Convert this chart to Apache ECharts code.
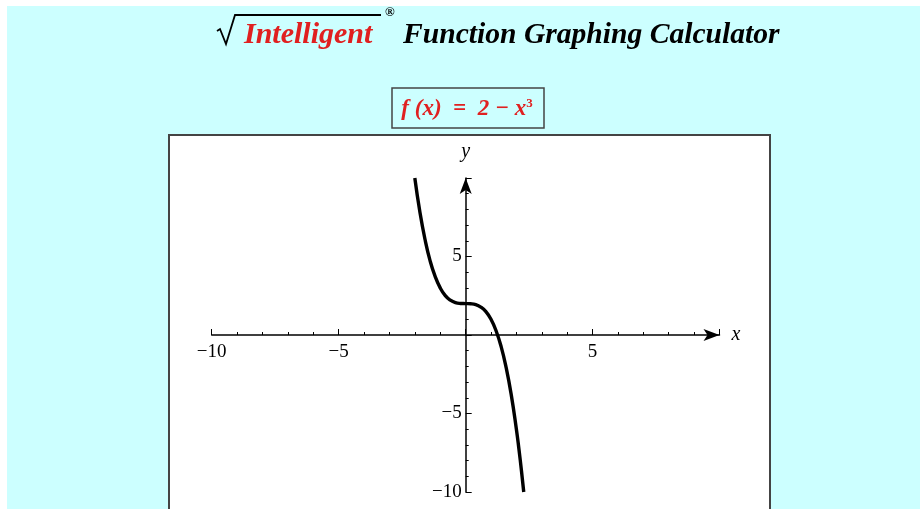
<!DOCTYPE html>
<html>
<head>
<meta charset="utf-8">
<script src="https://cdn.jsdelivr.net/npm/echarts@6/dist/echarts.min.js"></script>
<style>
  html, body { margin: 0; padding: 0; background: #ffffff; }
  #chart { width: 920px; height: 509px; }
</style>
</head>
<body>
<div id="chart"></div>
<script>
const xValues = [-2.0, -1.8, -1.6, -1.4, -1.2, -1.0, -0.8, -0.6, -0.4, -0.2, 0, 0.2, 0.4, 0.6, 0.8, 1.0, 1.2, 1.4, 1.6, 1.8, 2.0, 2.1, 2.2, 2.29];
const yValues = [10.0, 7.83, 6.1, 4.74, 3.73, 3.0, 2.51, 2.22, 2.06, 2.01, 2.0, 1.99, 1.94, 1.78, 1.49, 1.0, 0.27, -0.74, -2.1, -3.83, -6.0, -7.26, -8.65, -10.0];
const xTickLabels = ['\u221210', '\u22125', '', '5', ''];
const yTickLabels = ['\u221210', '\u22125', '', '5', ''];

const serif = '"Liberation Serif", "DejaVu Serif", serif';
const chart = echarts.init(document.getElementById('chart'));

// grid box in pixels
const gLeft = 211.7, gRight = 719.5, gTop = 178, gBottom = 492;

function tickLabel(labels) {
  return function (v) {
    const idx = Math.round((v + 10) / 5);
    return labels[idx] || '';
  };
}

const axisCommon = {
  type: 'value',
  min: -10,
  max: 10,
  interval: 5,
  axisLine: {
    onZero: false,
    symbol: ['none', 'arrow'],
    symbolSize: [9, 16],
    lineStyle: { color: '#000', width: 1.5 }
  },
  axisTick: { show: true, inside: true, length: 6, lineStyle: { color: '#000', width: 1 } },
  minorTick: { show: true, splitNumber: 5, length: 3, lineStyle: { color: '#000', width: 1 } },
  splitLine: { show: false },
  nameTextStyle: { fontFamily: serif, fontStyle: 'italic', fontSize: 20, color: '#000' }
};

const option = {
  backgroundColor: 'transparent',
  animation: false,
  graphic: [
    { type: 'rect', z: -20, shape: { x: 7, y: 6, width: 913, height: 503 }, style: { fill: '#ccffff' } },
    { type: 'rect', z: -10, shape: { x: 169, y: 135, width: 601, height: 380 }, style: { fill: '#ffffff', stroke: '#444', lineWidth: 2 } },
    { type: 'polyline', shape: { points: [[217, 31], [220, 29], [226, 44], [235, 15], [381, 15]] }, style: { stroke: '#000', lineWidth: 1.8, fill: null } },
    { type: 'text', style: { x: 244, y: 35, text: 'Intelligent', font: 'italic bold 30px ' + serif, fill: '#e02020', verticalAlign: 'middle' } },
    { type: 'text', style: { x: 385, y: 13, text: '\u00ae', font: 'bold 13px ' + serif, fill: '#000', verticalAlign: 'middle' } },
    { type: 'text', style: { x: 403, y: 35, text: 'Function Graphing Calculator', font: 'italic bold 29.6px ' + serif, fill: '#000', verticalAlign: 'middle' } },
    { type: 'rect', shape: { x: 392, y: 88, width: 152, height: 40 }, style: { fill: 'transparent', stroke: '#444', lineWidth: 1.5 } },
    {
      type: 'text',
      style: {
        x: 467, y: 109,
        text: '{a|f (x)  =  2 \u2212 x}{s|3}',
        align: 'center', verticalAlign: 'middle',
        rich: {
          a: { font: 'italic bold 23px ' + serif, fill: '#e02020' },
          s: { font: 'bold 13px ' + serif, fill: '#e02020', verticalAlign: 'top', padding: [0, 0, 10, 0] }
        }
      }
    }
  ],
  grid: { left: gLeft, right: 920 - gRight, top: gTop, bottom: 509 - gBottom, containLabel: false },
  xAxis: Object.assign({}, axisCommon, {
    position: 'bottom',
    offset: -(gBottom - 335),
    name: 'x',
    nameLocation: 'end',
    nameGap: 12,
    axisLabel: { formatter: tickLabel(xTickLabels), fontFamily: serif, fontSize: 19, color: '#000', margin: 8 }
  }),
  yAxis: Object.assign({}, axisCommon, {
    position: 'left',
    offset: -(465.7 - gLeft),
    name: 'y',
    nameLocation: 'end',
    nameGap: 16,
    axisLabel: { formatter: tickLabel(yTickLabels), fontFamily: serif, fontSize: 19, color: '#000', margin: 4 }
  }),
  series: [{
    type: 'line',
    data: xValues.map((x, i) => [x, yValues[i]]),
    smooth: true,
    showSymbol: false,
    clip: false,
    lineStyle: { color: '#000', width: 3.4 }
  }]
};

chart.setOption(option);
</script>
</body>
</html>
